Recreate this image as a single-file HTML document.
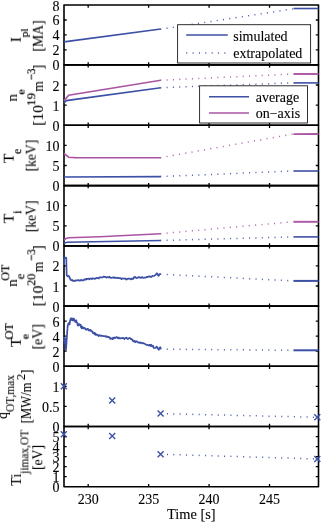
<!DOCTYPE html>
<html><head><meta charset="utf-8"><title>plot</title>
<style>html,body{margin:0;padding:0;background:#fff;overflow:hidden}svg{display:block;position:absolute;left:0;top:0}text{will-change:transform}</style>
</head><body>
<svg width="321" height="522" viewBox="0 0 321 522">
<rect width="321" height="522" fill="#fff"/>
<rect x="64" y="5" width="254.5" height="59.9" fill="none" stroke="#000" stroke-width="1.6" stroke-linejoin="round"/>
<path d="M88.18 5v2.7 M88.18 64.9v-2.7 M148.63 5v2.7 M148.63 64.9v-2.7 M209.08 5v2.7 M209.08 64.9v-2.7 M269.53 5v2.7 M269.53 64.9v-2.7 M64 49.93h2.7 M318.5 49.93h-2.7 M64 34.95h2.7 M318.5 34.95h-2.7 M64 19.98h2.7 M318.5 19.98h-2.7" stroke="#000" stroke-width="1.3" fill="none"/>
<rect x="64" y="64.9" width="254.5" height="60.3" fill="none" stroke="#000" stroke-width="1.6" stroke-linejoin="round"/>
<path d="M88.18 64.9v2.7 M88.18 125.2v-2.7 M148.63 64.9v2.7 M148.63 125.2v-2.7 M209.08 64.9v2.7 M209.08 125.2v-2.7 M269.53 64.9v2.7 M269.53 125.2v-2.7 M64 105.1h2.7 M318.5 105.1h-2.7 M64 85h2.7 M318.5 85h-2.7" stroke="#000" stroke-width="1.3" fill="none"/>
<rect x="64" y="125.2" width="254.5" height="60.44" fill="none" stroke="#000" stroke-width="1.6" stroke-linejoin="round"/>
<path d="M88.18 125.2v2.7 M88.18 185.64v-2.7 M148.63 125.2v2.7 M148.63 185.64v-2.7 M209.08 125.2v2.7 M209.08 185.64v-2.7 M269.53 125.2v2.7 M269.53 185.64v-2.7 M64 165.49h2.7 M318.5 165.49h-2.7 M64 145.35h2.7 M318.5 145.35h-2.7" stroke="#000" stroke-width="1.3" fill="none"/>
<rect x="64" y="185.64" width="254.5" height="60.24" fill="none" stroke="#000" stroke-width="1.6" stroke-linejoin="round"/>
<path d="M88.18 185.64v2.7 M88.18 245.88v-2.7 M148.63 185.64v2.7 M148.63 245.88v-2.7 M209.08 185.64v2.7 M209.08 245.88v-2.7 M269.53 185.64v2.7 M269.53 245.88v-2.7 M64 225.8h2.7 M318.5 225.8h-2.7 M64 205.72h2.7 M318.5 205.72h-2.7" stroke="#000" stroke-width="1.3" fill="none"/>
<rect x="64" y="245.88" width="254.5" height="60.2" fill="none" stroke="#000" stroke-width="1.6" stroke-linejoin="round"/>
<path d="M88.18 245.88v2.7 M88.18 306.08v-2.7 M148.63 245.88v2.7 M148.63 306.08v-2.7 M209.08 245.88v2.7 M209.08 306.08v-2.7 M269.53 245.88v2.7 M269.53 306.08v-2.7 M64 286.01h2.7 M318.5 286.01h-2.7 M64 265.95h2.7 M318.5 265.95h-2.7" stroke="#000" stroke-width="1.3" fill="none"/>
<rect x="64" y="306.08" width="254.5" height="60.16" fill="none" stroke="#000" stroke-width="1.6" stroke-linejoin="round"/>
<path d="M88.18 306.08v2.7 M88.18 366.24v-2.7 M148.63 306.08v2.7 M148.63 366.24v-2.7 M209.08 306.08v2.7 M209.08 366.24v-2.7 M269.53 306.08v2.7 M269.53 366.24v-2.7 M64 351.2h2.7 M318.5 351.2h-2.7 M64 336.16h2.7 M318.5 336.16h-2.7 M64 321.12h2.7 M318.5 321.12h-2.7" stroke="#000" stroke-width="1.3" fill="none"/>
<rect x="64" y="366.24" width="254.5" height="60.28" fill="none" stroke="#000" stroke-width="1.6" stroke-linejoin="round"/>
<path d="M88.18 366.24v2.7 M88.18 426.52v-2.7 M148.63 366.24v2.7 M148.63 426.52v-2.7 M209.08 366.24v2.7 M209.08 426.52v-2.7 M269.53 366.24v2.7 M269.53 426.52v-2.7 M64 406.43h2.7 M318.5 406.43h-2.7 M64 386.33h2.7 M318.5 386.33h-2.7" stroke="#000" stroke-width="1.3" fill="none"/>
<rect x="64" y="426.52" width="254.5" height="60.18" fill="none" stroke="#000" stroke-width="1.6" stroke-linejoin="round"/>
<path d="M88.18 426.52v2.7 M88.18 486.7v-2.7 M148.63 426.52v2.7 M148.63 486.7v-2.7 M209.08 426.52v2.7 M209.08 486.7v-2.7 M269.53 426.52v2.7 M269.53 486.7v-2.7 M64 476.67h2.7 M318.5 476.67h-2.7 M64 466.64h2.7 M318.5 466.64h-2.7 M64 456.61h2.7 M318.5 456.61h-2.7 M64 446.58h2.7 M318.5 446.58h-2.7 M64 436.55h2.7 M318.5 436.55h-2.7" stroke="#000" stroke-width="1.3" fill="none"/>
<polyline points="64,41.9 160.8,29" fill="none" stroke="#3c50a6" stroke-width="1.6" />
<polyline points="160.2,29.3 292.9,8.9" fill="none" stroke="#3c50a6" stroke-width="1.5" stroke-dasharray="1.1 5.25" stroke-opacity="0.88" />
<polyline points="293.4,8.5 318.5,8.5" fill="none" stroke="#3c50a6" stroke-width="1.6" />
<polyline points="64,103 66.2,100.6 160.8,87.7" fill="none" stroke="#3c50a6" stroke-width="1.6" />
<polyline points="160.2,87.7 292.9,82.9" fill="none" stroke="#3c50a6" stroke-width="1.5" stroke-dasharray="1.1 5.25" stroke-opacity="0.88" />
<polyline points="293.4,82.9 318.5,82.9" fill="none" stroke="#3c50a6" stroke-width="1.6" />
<polyline points="64,100.6 68.7,95.2 160.8,80.3" fill="none" stroke="#aa55a2" stroke-width="1.6" />
<polyline points="160.2,80.3 292.9,74" fill="none" stroke="#aa55a2" stroke-width="1.5" stroke-dasharray="1.1 5.25" stroke-opacity="0.88" />
<polyline points="293.4,74 318.5,74" fill="none" stroke="#aa55a2" stroke-width="1.9" />
<polyline points="64,153.5 68.7,157.2 75,157.6 160.8,157.7" fill="none" stroke="#aa55a2" stroke-width="1.6" />
<polyline points="160.2,157.7 292.9,134.1" fill="none" stroke="#aa55a2" stroke-width="1.5" stroke-dasharray="1.1 5.25" stroke-opacity="0.88" />
<polyline points="293.4,134.1 318.5,134" fill="none" stroke="#aa55a2" stroke-width="1.9" />
<polyline points="64,177 160.8,176.6" fill="none" stroke="#3c50a6" stroke-width="1.6" />
<polyline points="160.2,176.6 292.9,171" fill="none" stroke="#3c50a6" stroke-width="1.5" stroke-dasharray="1.1 5.25" stroke-opacity="0.88" />
<polyline points="293.4,171 318.5,171" fill="none" stroke="#3c50a6" stroke-width="1.6" />
<polyline points="64,240 66,238.6 68.7,237.8 100,236.8 130,235.2 160.8,233.7" fill="none" stroke="#aa55a2" stroke-width="1.6" />
<polyline points="160.2,233.7 292.9,221.8" fill="none" stroke="#aa55a2" stroke-width="1.5" stroke-dasharray="1.1 5.25" stroke-opacity="0.88" />
<polyline points="293.4,221.8 318.5,221.8" fill="none" stroke="#aa55a2" stroke-width="1.9" />
<polyline points="64,243.2 67,242.2 160.8,240.5" fill="none" stroke="#3c50a6" stroke-width="1.6" />
<polyline points="160.2,240.5 292.9,236.9" fill="none" stroke="#3c50a6" stroke-width="1.5" stroke-dasharray="1.1 5.25" stroke-opacity="0.88" />
<polyline points="293.4,236.9 318.5,236.9" fill="none" stroke="#3c50a6" stroke-width="1.6" />
<polyline points="64.1,265.09 64.11,264.25 64.12,264.23 64.13,262.91 64.14,262.83 64.15,262 64.15,261.01 64.16,260.92 64.17,259.73 64.18,259.57 64.19,258.51 64.2,257.91 64.7,257.96 65.2,258.09 65.75,257.55 66.3,257.97 66.31,259.06 66.33,260.05 66.34,260.21 66.35,260.6 66.36,261.9 66.38,261.39 66.39,262.97 66.4,262.9 66.41,263.33 66.42,263.9 66.44,264.74 66.45,265.95 66.46,265.8 66.47,266.89 66.49,267.56 66.5,267.85 66.52,268.66 66.53,268.69 66.55,269.29 66.56,270.08 66.58,271.25 66.59,271.56 66.61,272.03 66.62,272.96 66.64,273.41 66.65,273.84 66.67,275.04 66.68,275.53 66.7,275.59 67.8,276.29 68.35,275.93 68.9,276.05 69.12,276.55 69.35,276.7 69.58,278.2 69.8,277.84 70.23,278.84 70.67,279.88 71.1,279.78 71.73,280.35 72.37,279.98 73,280.9 73.6,280.98 74.2,280.71 74.8,281.03 75.4,280.32 76,280.73 76.67,280.45 77.33,280.26 78,279.95 78.62,280.51 79.25,280.73 79.88,280.27 80.5,280.6 81.14,279.74 81.79,280.38 82.43,280.19 83.07,280.48 83.71,280.14 84.36,279.37 85,279.36 85.62,279.64 86.25,278.8 86.88,279.27 87.5,278.85 88.12,278.73 88.75,278.6 89.38,279.38 90,278.56 90.62,278.61 91.25,278.69 91.88,279.18 92.5,278.15 93.12,278.5 93.75,278.53 94.38,278.85 95,278.68 95.62,278.67 96.25,277.91 96.88,278.01 97.5,277.88 98.12,278.45 98.75,278.47 99.38,277.44 100,277.41 100.64,277.36 101.29,277.25 101.93,277.44 102.57,277.45 103.21,276.94 103.86,276.52 104.5,276.9 105.11,276.87 105.72,277.12 106.33,277.61 106.94,277.32 107.56,277.13 108.17,277.27 108.78,277.37 109.39,276.64 110,277.68 110.6,277.64 111.2,277.85 111.8,277.86 112.4,277.47 113,277.58 113.6,277.32 114.2,278.06 114.8,277.47 115.4,277.58 116,277.85 116.6,277.85 117.2,278.13 117.8,277.84 118.4,277.84 119,278.08 119.6,278.08 120.2,278.46 120.8,278.11 121.4,279.19 122,278.94 122.65,278.4 123.3,278.54 123.95,278.68 124.6,278.72 125.25,278.45 125.9,279.34 126.55,279.53 127.2,278.92 127.85,278.96 128.5,278.5 129.13,278.54 129.77,278.84 130.4,278.77 131.03,279.46 131.67,278.68 132.3,278.53 132.87,279.11 133.43,278.07 134,277.08 134.6,277.55 135.2,276.93 135.8,277.53 136.4,278.07 137,277.94 137.6,277.74 138.2,277.21 138.8,277.34 139.4,277.1 140,277.83 140.6,277.51 141.2,277.77 141.8,277.21 142.4,277.05 143,277.72 143.6,277.9 144.2,277.71 144.8,277.63 145.4,277.61 146,277.49 146.64,276.82 147.28,277.12 147.91,276.88 148.55,276.43 149.19,276.38 149.82,276.64 150.46,276.56 151.1,277.03 151.67,276.88 152.23,275.8 152.8,275.92 153.48,275.99 154.15,275.95 154.82,275.24 155.5,275.06 155.9,274.5 156.3,273.89 156.7,273.32 157.1,273.25 157.45,274.23 157.8,274.81 158.15,275.03 158.5,275.88 158.98,275.54 159.46,274.16 159.94,274.33 160.42,274.11 160.9,273.44" fill="none" stroke="#3c50a6" stroke-width="1.7" stroke-linejoin="round"/>
<polyline points="166.7,274.5 292.9,280.9" fill="none" stroke="#3c50a6" stroke-width="1.5" stroke-dasharray="1.1 5.25" stroke-opacity="0.88" />
<polyline points="293.4,280.9 318.5,280.9" fill="none" stroke="#3c50a6" stroke-width="2.0" />
<polyline points="64,336.85 64.05,337.32 64.1,337.77 64.15,338.76 64.2,339.12 64.25,340.03 64.3,340.76 64.35,341.05 64.4,341.68 64.45,342.64 64.5,343.13 64.59,342.18 64.67,341.53 64.76,340.92 64.85,340.74 64.94,340.06 65.03,339.04 65.11,338.82 65.2,338.29 65.24,338.72 65.28,339.16 65.33,339.91 65.37,340.28 65.41,340.84 65.45,342.04 65.49,342.47 65.54,343.03 65.58,343.9 65.62,344.22 65.66,345.11 65.71,345.71 65.75,345.97 65.79,346.62 65.83,347.27 65.87,347.87 65.92,348.7 65.96,349.13 66,349.85 66.04,349.05 66.08,348.89 66.13,347.93 66.17,347.37 66.21,346.82 66.25,346.38 66.29,345.47 66.34,345.14 66.38,344.26 66.42,343.66 66.46,343.02 66.51,342.1 66.55,341.72 66.59,340.94 66.63,340.21 66.67,340.06 66.72,339.06 66.76,338.61 66.8,338.14 66.84,337.41 66.89,336.66 66.94,336.15 66.98,335.55 67.03,335.07 67.07,334.04 67.11,333.7 67.16,332.89 67.2,332.29 67.25,331.96 67.3,331.18 67.34,330.6 67.39,330.1 67.43,329.57 67.47,328.67 67.52,328.15 67.56,327.46 67.61,326.85 67.66,326.34 67.7,325.57 67.9,324.97 68.1,324.29 68.3,323.91 68.5,323.12 68.5,323.98 68.9,324.65 69.3,323.37 69.46,323.65 69.63,324.13 69.79,323.36 69.95,321.02 70.12,320.47 70.28,320.79 70.45,319.32 70.61,319.25 70.77,318.31 70.94,319.35 71.1,319.14 71.45,319.83 71.8,318.3 72.15,320.16 72.5,320.42 72.83,318.67 73.17,320.2 73.5,320.02 73.88,318.5 74.25,320.83 74.62,319.81 75,320.47 75.43,322.04 75.87,321.9 76.3,320.42 76.53,321.69 76.77,322.47 77,322.58 77.2,322.73 77.4,323.57 77.6,325.14 77.8,323.83 78,325.74 78.5,325.3 79,324.05 79.5,324.71 80,325.32 80.33,325.45 80.67,324.7 81,327.51 81.33,327.42 81.67,328.31 82,326.47 82,327.1 82.62,326.97 83.23,328.47 83.85,327.86 84.47,327.87 85.08,328.62 85.7,329.7 86.47,329.71 87.23,328.92 88,328.9 88.56,330.45 89.12,330.1 89.68,330.56 90.24,329.76 90.8,329.95 91.35,331.47 91.9,331.47 92.45,331.32 93,333.25 93.5,333.06 94,333.68 94.5,332.79 95,334.44 95.5,333.43 96,335.12 96.6,334.62 97.2,334.63 97.8,335.19 98.4,336.03 99,335.11 99.63,335.07 100.27,335.95 100.9,335.66 101.53,335.64 102.17,335.92 102.8,335.94 103.45,336.07 104.1,336.13 104.75,335.99 105.4,336.64 106.05,336.17 106.7,336.85 107.35,336.63 108,337.24 108.57,336.91 109.13,337.54 109.7,337.38 110.27,338.83 110.83,338.75 111.4,338.37 111.97,338.64 112.53,339.21 113.1,337.58 113.67,338.58 114.23,337.7 114.8,337.59 115.5,338.04 116.2,337.15 116.9,337.21 117.52,337.68 118.14,338.34 118.76,337.41 119.38,338.4 120,338.35 120.62,338.38 121.23,338.14 121.85,338.19 122.47,337.84 123.08,338.12 123.7,338.17 124.47,339.11 125.23,338.08 126,337.73 126.62,337.61 127.23,338.91 127.85,338.98 128.47,338.66 129.08,338.01 129.7,337.96 130.27,338.4 130.85,339.03 131.43,338.87 132,339.71 132.53,339.68 133.06,341.16 133.59,341.46 134.11,341.02 134.64,340.79 135.17,342.31 135.7,341.48 136.31,341.73 136.93,341.29 137.54,342.11 138.16,342.44 138.77,342.66 139.39,342.32 140,343.01 140.61,342.32 141.23,342.91 141.84,342.77 142.46,343.46 143.07,343.01 143.69,343.13 144.3,343.77 144.92,343.76 145.53,344.48 146.15,344.5 146.77,344.99 147.38,344.95 148,345.17 148.62,345.54 149.24,344.81 149.86,344.8 150.48,346.02 151.1,344.7 151.73,346.08 152.37,346.34 153,345.72 153.53,347.5 154.07,348.03 154.6,348.02 155.22,348 155.85,347.93 156.47,346.59 157.1,347.04 157.53,347.56 157.95,348.67 158.38,349.17 158.8,349.75 159.1,348.79 159.4,348.77 159.7,347.86 160,347.33 160.22,347.19 160.45,347.5 160.68,348.33 160.9,349.36" fill="none" stroke="#3c50a6" stroke-width="1.7" stroke-linejoin="round"/>
<polyline points="166.7,349.2 292.9,350.3" fill="none" stroke="#3c50a6" stroke-width="1.5" stroke-dasharray="1.1 5.25" stroke-opacity="0.88" />
<polyline points="293.4,350.3 318.5,350.3" fill="none" stroke="#3c50a6" stroke-width="2.0" />
<polyline points="166.9,413.75 317.3,417.3" fill="none" stroke="#3c50a6" stroke-width="1.5" stroke-dasharray="1.1 5.25" stroke-opacity="0.88" />
<polyline points="166.9,454.4 317.3,459" fill="none" stroke="#3c50a6" stroke-width="1.5" stroke-dasharray="1.1 5.25" stroke-opacity="0.88" />
<path d="M60.8 383.2L66.8 389.2M60.8 389.2L66.8 383.2" stroke="#3c50a6" stroke-width="1.4" fill="none"/>
<path d="M109.2 397.6L115.2 403.6M109.2 403.6L115.2 397.6" stroke="#3c50a6" stroke-width="1.4" fill="none"/>
<path d="M157.6 410.6L163.6 416.6M157.6 416.6L163.6 410.6" stroke="#3c50a6" stroke-width="1.4" fill="none"/>
<path d="M314.3 414.3L320.3 420.3M314.3 420.3L320.3 414.3" stroke="#3c50a6" stroke-width="1.4" fill="none"/>
<path d="M60.8 431.2L66.8 437.2M60.8 437.2L66.8 431.2" stroke="#3c50a6" stroke-width="1.4" fill="none"/>
<path d="M109.2 432.9L115.2 438.9M109.2 438.9L115.2 432.9" stroke="#3c50a6" stroke-width="1.4" fill="none"/>
<path d="M157.6 451.2L163.6 457.2M157.6 457.2L163.6 451.2" stroke="#3c50a6" stroke-width="1.4" fill="none"/>
<path d="M314.3 456L320.3 462M314.3 462L320.3 456" stroke="#3c50a6" stroke-width="1.4" fill="none"/>
<rect x="177.6" y="24.7" width="133" height="38.3" fill="#fff" stroke="#1a1a1a" stroke-width="0.9"/>
<polyline points="186.2,35 227.8,35" fill="none" stroke="#3c50a6" stroke-width="1.4" />
<text x="233.2" y="40.9" font-family="Liberation Serif, serif" font-size="14" fill="#000" stroke="#000" stroke-width="0.1">simulated</text>
<polyline points="186.2,53 227.8,53" fill="none" stroke="#3c50a6" stroke-width="1.5" stroke-dasharray="1.1 5.25" stroke-opacity="0.88" />
<text x="233.2" y="57.6" font-family="Liberation Serif, serif" font-size="14" fill="#000" stroke="#000" stroke-width="0.1">extrapolated</text>
<rect x="199.6" y="85.8" width="107.9" height="37.2" fill="#fff" stroke="#1a1a1a" stroke-width="0.9"/>
<polyline points="209,96.7 249,96.7" fill="none" stroke="#3c50a6" stroke-width="1.4" />
<text x="255.7" y="101.5" font-family="Liberation Serif, serif" font-size="14" fill="#000" stroke="#000" stroke-width="0.1">average</text>
<polyline points="209,113 249,113" fill="none" stroke="#aa55a2" stroke-width="1.4" />
<text x="255.7" y="118" font-family="Liberation Serif, serif" font-size="14" fill="#000" stroke="#000" stroke-width="0.1">on&#8722;axis</text>
<text x="59.5" y="70.4" text-anchor="end" font-family="Liberation Serif, serif" font-size="14" fill="#000" stroke="#000" stroke-width="0.1">0</text>
<text x="59.5" y="55.43" text-anchor="end" font-family="Liberation Serif, serif" font-size="14" fill="#000" stroke="#000" stroke-width="0.1">2</text>
<text x="59.5" y="40.45" text-anchor="end" font-family="Liberation Serif, serif" font-size="14" fill="#000" stroke="#000" stroke-width="0.1">4</text>
<text x="59.5" y="25.48" text-anchor="end" font-family="Liberation Serif, serif" font-size="14" fill="#000" stroke="#000" stroke-width="0.1">6</text>
<text x="59.5" y="10.5" text-anchor="end" font-family="Liberation Serif, serif" font-size="14" fill="#000" stroke="#000" stroke-width="0.1">8</text>
<text x="59.5" y="130.7" text-anchor="end" font-family="Liberation Serif, serif" font-size="14" fill="#000" stroke="#000" stroke-width="0.1">0</text>
<text x="59.5" y="110.6" text-anchor="end" font-family="Liberation Serif, serif" font-size="14" fill="#000" stroke="#000" stroke-width="0.1">1</text>
<text x="59.5" y="90.5" text-anchor="end" font-family="Liberation Serif, serif" font-size="14" fill="#000" stroke="#000" stroke-width="0.1">2</text>
<text x="59.5" y="191.14" text-anchor="end" font-family="Liberation Serif, serif" font-size="14" fill="#000" stroke="#000" stroke-width="0.1">0</text>
<text x="59.5" y="170.99" text-anchor="end" font-family="Liberation Serif, serif" font-size="14" fill="#000" stroke="#000" stroke-width="0.1">5</text>
<text x="59.5" y="150.85" text-anchor="end" font-family="Liberation Serif, serif" font-size="14" fill="#000" stroke="#000" stroke-width="0.1">10</text>
<text x="59.5" y="251.38" text-anchor="end" font-family="Liberation Serif, serif" font-size="14" fill="#000" stroke="#000" stroke-width="0.1">0</text>
<text x="59.5" y="231.3" text-anchor="end" font-family="Liberation Serif, serif" font-size="14" fill="#000" stroke="#000" stroke-width="0.1">5</text>
<text x="59.5" y="211.22" text-anchor="end" font-family="Liberation Serif, serif" font-size="14" fill="#000" stroke="#000" stroke-width="0.1">10</text>
<text x="59.5" y="311.58" text-anchor="end" font-family="Liberation Serif, serif" font-size="14" fill="#000" stroke="#000" stroke-width="0.1">0</text>
<text x="59.5" y="291.51" text-anchor="end" font-family="Liberation Serif, serif" font-size="14" fill="#000" stroke="#000" stroke-width="0.1">1</text>
<text x="59.5" y="271.45" text-anchor="end" font-family="Liberation Serif, serif" font-size="14" fill="#000" stroke="#000" stroke-width="0.1">2</text>
<text x="59.5" y="371.74" text-anchor="end" font-family="Liberation Serif, serif" font-size="14" fill="#000" stroke="#000" stroke-width="0.1">0</text>
<text x="59.5" y="356.7" text-anchor="end" font-family="Liberation Serif, serif" font-size="14" fill="#000" stroke="#000" stroke-width="0.1">2</text>
<text x="59.5" y="341.66" text-anchor="end" font-family="Liberation Serif, serif" font-size="14" fill="#000" stroke="#000" stroke-width="0.1">4</text>
<text x="59.5" y="326.62" text-anchor="end" font-family="Liberation Serif, serif" font-size="14" fill="#000" stroke="#000" stroke-width="0.1">6</text>
<text x="59.5" y="432.02" text-anchor="end" font-family="Liberation Serif, serif" font-size="14" fill="#000" stroke="#000" stroke-width="0.1">0</text>
<text x="59.5" y="411.93" text-anchor="end" font-family="Liberation Serif, serif" font-size="14" fill="#000" stroke="#000" stroke-width="0.1">0.5</text>
<text x="59.5" y="391.83" text-anchor="end" font-family="Liberation Serif, serif" font-size="14" fill="#000" stroke="#000" stroke-width="0.1">1</text>
<text x="59.5" y="492.2" text-anchor="end" font-family="Liberation Serif, serif" font-size="14" fill="#000" stroke="#000" stroke-width="0.1">0</text>
<text x="59.5" y="482.17" text-anchor="end" font-family="Liberation Serif, serif" font-size="14" fill="#000" stroke="#000" stroke-width="0.1">1</text>
<text x="59.5" y="472.14" text-anchor="end" font-family="Liberation Serif, serif" font-size="14" fill="#000" stroke="#000" stroke-width="0.1">2</text>
<text x="59.5" y="462.11" text-anchor="end" font-family="Liberation Serif, serif" font-size="14" fill="#000" stroke="#000" stroke-width="0.1">3</text>
<text x="59.5" y="452.08" text-anchor="end" font-family="Liberation Serif, serif" font-size="14" fill="#000" stroke="#000" stroke-width="0.1">4</text>
<text x="59.5" y="442.05" text-anchor="end" font-family="Liberation Serif, serif" font-size="14" fill="#000" stroke="#000" stroke-width="0.1">5</text>
<text x="88.18" y="504.4" text-anchor="middle" font-family="Liberation Serif, serif" font-size="14" fill="#000" stroke="#000" stroke-width="0.1">230</text>
<text x="148.63" y="504.4" text-anchor="middle" font-family="Liberation Serif, serif" font-size="14" fill="#000" stroke="#000" stroke-width="0.1">235</text>
<text x="209.08" y="504.4" text-anchor="middle" font-family="Liberation Serif, serif" font-size="14" fill="#000" stroke="#000" stroke-width="0.1">240</text>
<text x="269.53" y="504.4" text-anchor="middle" font-family="Liberation Serif, serif" font-size="14" fill="#000" stroke="#000" stroke-width="0.1">245</text>
<text x="191.3" y="519.4" text-anchor="middle" font-family="Liberation Serif, serif" font-size="14.4" fill="#000" stroke="#000" stroke-width="0.1">Time [s]</text>
<text transform="translate(20.8 42.27) rotate(-90) scale(1.04 1.0)" font-family="Liberation Serif, serif" font-size="15" fill="#000" stroke="#000" stroke-width="0.08">I</text>
<text transform="translate(28.4 37.38) rotate(-90) scale(1 0.95)" font-family="Liberation Serif, serif" font-size="11.5" fill="#000" stroke="#000" stroke-width="0.2">pl</text>
<text transform="translate(42.8 51.72) rotate(-90) scale(0.9 1.0)" font-family="Liberation Serif, serif" font-size="15.3" fill="#000" stroke="#000" stroke-width="0.08">[MA]</text>
<text transform="translate(17 101.55) rotate(-90) scale(1.01 1.0)" font-family="Liberation Serif, serif" font-size="15" fill="#000" stroke="#000" stroke-width="0.08">n</text>
<text transform="translate(24.5 94.79) rotate(-90) scale(1.13 1.0)" font-family="Liberation Serif, serif" font-size="11" fill="#000" stroke="#000" stroke-width="0.2">e</text>
<text transform="translate(43 125.75) rotate(-90) scale(1.05 1.0)" font-family="Liberation Serif, serif" font-size="14.8" fill="#000" stroke="#000" stroke-width="0.08">[10</text>
<text transform="translate(35.3 105.72) rotate(-90) scale(1.06 1.0)" font-family="Liberation Serif, serif" font-size="12" fill="#000" stroke="#000" stroke-width="0.2">19</text>
<text transform="translate(43 91.69) rotate(-90) scale(0.97 1.0)" font-family="Liberation Serif, serif" font-size="14" fill="#000" stroke="#000" stroke-width="0.08">m</text>
<text transform="translate(35.2 80.14) rotate(-90) scale(0.91 1.0)" font-family="Liberation Serif, serif" font-size="12" fill="#000" stroke="#000" stroke-width="0.2">−3</text>
<text transform="translate(43 69.52) rotate(-90) scale(0.97 1.0)" font-family="Liberation Serif, serif" font-size="14.8" fill="#000" stroke="#000" stroke-width="0.08">]</text>
<text transform="translate(13.7 162.98) rotate(-90) scale(1.03 1.0)" font-family="Liberation Serif, serif" font-size="15" fill="#000" stroke="#000" stroke-width="0.08">T</text>
<text transform="translate(21.2 154.06) rotate(-90) scale(0.99 1.0)" font-family="Liberation Serif, serif" font-size="12" fill="#000" stroke="#000" stroke-width="0.2">e</text>
<text transform="translate(35.7 171.51) rotate(-90) scale(0.92 1.0)" font-family="Liberation Serif, serif" font-size="14.8" fill="#000" stroke="#000" stroke-width="0.08">[keV]</text>
<text transform="translate(13.7 223.18) rotate(-90) scale(1.03 1.0)" font-family="Liberation Serif, serif" font-size="15" fill="#000" stroke="#000" stroke-width="0.08">T</text>
<text transform="translate(21.4 213.86) rotate(-90) scale(1.02 1.0)" font-family="Liberation Serif, serif" font-size="12" fill="#000" stroke="#000" stroke-width="0.2">i</text>
<text transform="translate(35.7 232.31) rotate(-90) scale(0.92 1.0)" font-family="Liberation Serif, serif" font-size="14.8" fill="#000" stroke="#000" stroke-width="0.08">[keV]</text>
<text transform="translate(17 286.75) rotate(-90) scale(1.01 1.0)" font-family="Liberation Serif, serif" font-size="15" fill="#000" stroke="#000" stroke-width="0.08">n</text>
<text transform="translate(24.3 279.2) rotate(-90) scale(1.1 1.0)" font-family="Liberation Serif, serif" font-size="11.5" fill="#000" stroke="#000" stroke-width="0.2">e</text>
<text transform="translate(9.3 280.7) rotate(-90) scale(1.06 1.0)" font-family="Liberation Serif, serif" font-size="11.5" fill="#000" stroke="#000" stroke-width="0.2">OT</text>
<text transform="translate(43 306.35) rotate(-90) scale(1.05 1.0)" font-family="Liberation Serif, serif" font-size="14.8" fill="#000" stroke="#000" stroke-width="0.08">[10</text>
<text transform="translate(35.3 285.73) rotate(-90) scale(1.01 1.0)" font-family="Liberation Serif, serif" font-size="12" fill="#000" stroke="#000" stroke-width="0.2">20</text>
<text transform="translate(43 272.29) rotate(-90) scale(0.97 1.0)" font-family="Liberation Serif, serif" font-size="14" fill="#000" stroke="#000" stroke-width="0.08">m</text>
<text transform="translate(35.2 260.74) rotate(-90) scale(0.91 1.0)" font-family="Liberation Serif, serif" font-size="12" fill="#000" stroke="#000" stroke-width="0.2">−3</text>
<text transform="translate(43 250.12) rotate(-90) scale(0.97 1.0)" font-family="Liberation Serif, serif" font-size="14.8" fill="#000" stroke="#000" stroke-width="0.08">]</text>
<text transform="translate(20.9 346.88) rotate(-90) scale(1.03 1.0)" font-family="Liberation Serif, serif" font-size="15" fill="#000" stroke="#000" stroke-width="0.08">T</text>
<text transform="translate(28.6 339.16) rotate(-90) scale(1.08 1.0)" font-family="Liberation Serif, serif" font-size="11" fill="#000" stroke="#000" stroke-width="0.2">e</text>
<text transform="translate(13 339.4) rotate(-90) scale(1.02 1.0)" font-family="Liberation Serif, serif" font-size="12" fill="#000" stroke="#000" stroke-width="0.2">OT</text>
<text transform="translate(42.3 349.53) rotate(-90) scale(0.94 1.0)" font-family="Liberation Serif, serif" font-size="14.8" fill="#000" stroke="#000" stroke-width="0.08">[eV]</text>
<text transform="translate(7 418.99) rotate(-90) scale(0.93 1.0)" font-family="Liberation Serif, serif" font-size="14.8" fill="#000" stroke="#000" stroke-width="0.08">q</text>
<text transform="translate(14.1 411.87) rotate(-90) scale(0.86 1.0)" font-family="Liberation Serif, serif" font-size="13.3" fill="#000" stroke="#000" stroke-width="0.08">OT,max</text>
<text transform="translate(31 423.23) rotate(-90) scale(0.87 1.0)" font-family="Liberation Serif, serif" font-size="14.5" fill="#000" stroke="#000" stroke-width="0.08">[MW/m</text>
<text transform="translate(25 380.27) rotate(-90) scale(0.97 1.0)" font-family="Liberation Serif, serif" font-size="13.3" fill="#000" stroke="#000" stroke-width="0.08">2</text>
<text transform="translate(31 374.09) rotate(-90) scale(0.93 1.0)" font-family="Liberation Serif, serif" font-size="14.5" fill="#000" stroke="#000" stroke-width="0.08">]</text>
<text transform="translate(21 485.76) rotate(-90) scale(1.01 1.0)" font-family="Liberation Serif, serif" font-size="14" fill="#000" stroke="#000" stroke-width="0.08">Ti</text>
<text transform="translate(28.4 473.87) rotate(-90) scale(0.86 1.0)" font-family="Liberation Serif, serif" font-size="13.3" fill="#000" stroke="#000" stroke-width="0.08">jimax,OT</text>
<text transform="translate(42.3 470.02) rotate(-90) scale(0.93 1.0)" font-family="Liberation Serif, serif" font-size="14.8" fill="#000" stroke="#000" stroke-width="0.08">[eV]</text>
</svg>
</body></html>
